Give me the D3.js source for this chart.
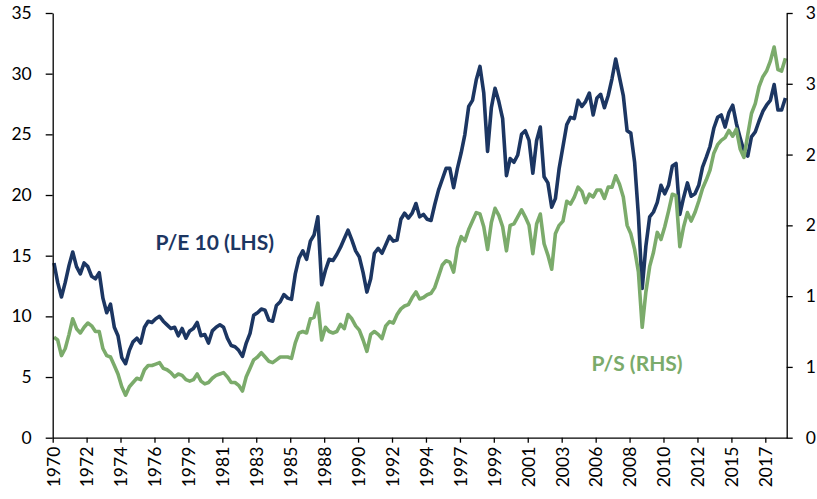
<!DOCTYPE html>
<html>
<head>
<meta charset="utf-8">
<title>P/E 10 and P/S</title>
<script src="https://cdnjs.cloudflare.com/ajax/libs/d3/7.8.5/d3.min.js"></script>
<style>
  html, body { margin: 0; padding: 0; background: #fff; }
  svg { display: block; }
</style>
</head>
<body>
<svg id="chart"></svg>
<script>
// ── Data ──────────────────────────────────────────────────────────────────────
// Quarterly observations (mid-quarter months: Feb, May, Aug, Nov), 1970 → 2018.
const FIRST_OBS = new Date(1970, 1, 1);
const MONTHS_PER_OBS = 3;

// P/E 10, left-hand scale
const peValues = [
  14.4, 12.8, 11.6, 12.8,  14.2, 15.3, 14.1, 13.5,   // 1970-71
  14.4, 14.1, 13.3, 13.1,  13.6, 11.5, 10.3, 11.0,   // 1972-73
   9.1,  8.4,  6.6,  6.1,   7.2,  7.9,  8.2,  7.8,   // 1974-75
   9.1,  9.6,  9.5,  9.8,  10.0,  9.6,  9.3,  9.0,   // 1976-77
   9.1,  8.4,  9.0,  8.2,   8.8,  9.0,  9.5,  8.4,   // 1978-79
   8.5,  7.8,  8.8,  9.1,   9.3,  9.1,  8.2,  7.6,   // 1980-81
   7.5,  7.2,  6.7,  7.8,   8.6, 10.1, 10.3, 10.6,   // 1982-83
  10.5,  9.7,  9.6, 10.9,  11.2, 11.8, 11.5, 11.4,   // 1984-85
  13.5, 14.8, 15.4, 14.7,  16.2, 16.7, 18.2, 12.6,   // 1986-87
  13.8, 14.7, 14.6, 15.1,  15.7, 16.4, 17.1, 16.3,   // 1988-89
  15.4, 14.9, 13.6, 12.0,  13.1, 15.2, 15.6, 15.2,   // 1990-91
  15.9, 16.6, 16.2, 16.3,  18.0, 18.5, 18.1, 18.5,   // 1992-93
  19.3, 18.2, 18.4, 18.0,  17.9, 19.2, 20.4, 21.3,   // 1994-95
  22.2, 22.2, 20.6, 22.2,  23.5, 25.0, 27.3, 27.8,   // 1996-97
  29.5, 30.6, 28.4, 23.6,  27.2, 28.8, 27.7, 26.3,   // 1998-99
  21.6, 23.0, 22.7, 23.3,  25.0, 25.3, 24.5, 21.8,   // 2000-01
  24.5, 25.6, 21.5, 21.0,  19.0, 19.7, 22.2, 24.0,   // 2002-03
  25.8, 26.4, 26.3, 27.8,  27.3, 27.7, 28.4, 26.6,   // 2004-05
  28.0, 28.3, 27.2, 28.2,  29.6, 31.2, 29.7, 28.2,   // 2006-07
  25.3, 25.1, 22.7, 18.3,  12.3, 15.8, 18.2, 18.6,   // 2008-09
  19.4, 20.8, 20.1, 20.8,  22.4, 22.6, 18.4, 19.8,   // 2010-11
  21.0, 19.9, 20.1, 20.8,  22.3, 23.1, 24.0, 25.5,   // 2012-13
  26.4, 26.6, 25.6, 26.8,  27.4, 25.9, 24.7, 23.6,   // 2014-15
  23.2, 24.8, 25.2, 26.1,  26.9, 27.4, 27.8, 29.1,   // 2016-17
  27.0, 27.0, 28.0                                   // 2018
];

// P/S, right-hand scale
const psValues = [
  0.71, 0.69, 0.58, 0.63,  0.73, 0.84, 0.77, 0.74,   // 1970-71
  0.78, 0.81, 0.79, 0.75,  0.75, 0.63, 0.58, 0.57,   // 1972-73
  0.51, 0.45, 0.36, 0.30,  0.36, 0.39, 0.42, 0.41,   // 1974-75
  0.48, 0.51, 0.51, 0.52,  0.53, 0.49, 0.48, 0.46,   // 1976-77
  0.43, 0.45, 0.44, 0.41,  0.40, 0.41, 0.45, 0.40,   // 1978-79
  0.38, 0.39, 0.42, 0.44,  0.45, 0.46, 0.43, 0.39,   // 1980-81
  0.39, 0.37, 0.33, 0.43,  0.49, 0.55, 0.57, 0.60,   // 1982-83
  0.57, 0.54, 0.53, 0.55,  0.57, 0.57, 0.57, 0.56,   // 1984-85
  0.67, 0.74, 0.75, 0.74,  0.84, 0.85, 0.95, 0.69,   // 1986-87
  0.78, 0.75, 0.74, 0.75,  0.80, 0.77, 0.87, 0.84,   // 1988-89
  0.79, 0.76, 0.69, 0.61,  0.73, 0.75, 0.73, 0.70,   // 1990-91
  0.79, 0.82, 0.81, 0.87,  0.91, 0.93, 0.94, 0.99,   // 1992-93
  1.03, 0.98, 0.99, 1.01,  1.02, 1.06, 1.14, 1.22,   // 1994-95
  1.25, 1.24, 1.17, 1.34,  1.42, 1.39, 1.47, 1.53,   // 1996-97
  1.59, 1.58, 1.49, 1.33,  1.52, 1.62, 1.57, 1.49,   // 1998-99
  1.32, 1.50, 1.51, 1.56,  1.61, 1.56, 1.50, 1.30,   // 2000-01
  1.51, 1.58, 1.37, 1.29,  1.19, 1.44, 1.50, 1.53,   // 2002-03
  1.67, 1.65, 1.70, 1.77,  1.74, 1.66, 1.72, 1.70,   // 2004-05
  1.75, 1.75, 1.69, 1.77,  1.77, 1.85, 1.79, 1.70,   // 2006-07
  1.50, 1.44, 1.33, 1.17,  0.78, 1.03, 1.21, 1.31,   // 2008-09
  1.45, 1.40, 1.49, 1.60,  1.72, 1.71, 1.35, 1.49,   // 2010-11
  1.59, 1.53, 1.59, 1.67,  1.76, 1.82, 1.89, 2.01,   // 2012-13
  2.07, 2.10, 2.12, 2.17,  2.13, 2.18, 2.04, 1.98,   // 2014-15
  2.14, 2.29, 2.36, 2.48,  2.55, 2.59, 2.66, 2.76,   // 2016-17
  2.60, 2.59, 2.68                                   // 2018
];

// Axis ticks
const leftTicks  = [0, 5, 10, 15, 20, 25, 30, 35];
const rightTicks = [0, 0.5, 1, 1.5, 2, 2.5, 3];
// date-axis labels fall every 27 months from Jan 1970
const xTickMonths = [0, 27, 54, 81, 108, 135, 162, 189, 216, 243, 270,
                     297, 324, 351, 378, 405, 432, 459, 486, 513, 540, 567];

// Series labels, anchored in data space
const seriesLabels = [
  { text: 'P/E 10 (LHS)', date: new Date(1976, 9, 25), value: 15.45, axis: 'left',  color: '#1c3662' },
  { text: 'P/S (RHS)',    date: new Date(2005, 8, 20), value: 0.47,  axis: 'right', color: '#7bab6b' },
];

// ── Layout ────────────────────────────────────────────────────────────────────
const W = 817, H = 499;
const margin = { top: 13, right: 30.3, bottom: 61.3, left: 52.7 };
const FONT = 'Lato, "Open Sans", sans-serif';
const NAVY = '#1c3662';
const GREEN = '#7bab6b';

const svg = d3.select('#chart').attr('width', W).attr('height', H);

const x = d3.scaleTime()
  .domain([new Date(1970, 0, 1), new Date(2018, 8, 1)])
  .range([margin.left, W - margin.right]);

const yL = d3.scaleLinear().domain([0, 35]).range([H - margin.bottom, margin.top]);
const yR = d3.scaleLinear().domain([0, 3]).range([H - margin.bottom, margin.top]);

const dates = peValues.map((_, i) => d3.timeMonth.offset(FIRST_OBS, i * MONTHS_PER_OBS));

// ── Lines ─────────────────────────────────────────────────────────────────────
const peLine = d3.line().x((d, i) => x(dates[i])).y(d => yL(d));
const psLine = d3.line().x((d, i) => x(dates[i])).y(d => yR(d));

svg.append('path')
  .datum(peValues)
  .attr('d', peLine)
  .attr('fill', 'none')
  .attr('stroke', NAVY)
  .attr('stroke-width', 3.6)
  .attr('stroke-linejoin', 'round');

svg.append('path')
  .datum(psValues)
  .attr('d', psLine)
  .attr('fill', 'none')
  .attr('stroke', GREEN)
  .attr('stroke-width', 3.6)
  .attr('stroke-linejoin', 'round');

// ── Axes ──────────────────────────────────────────────────────────────────────
function styleAxis(g) {
  g.selectAll('path, line').attr('stroke', '#000').attr('stroke-width', 1.3);
  g.selectAll('text')
    .attr('font-family', FONT)
    .attr('font-size', '17.5px')
    .attr('fill', '#000');
}

svg.append('g')
  .attr('transform', `translate(${margin.left},0)`)
  .call(d3.axisLeft(yL).tickValues(leftTicks).tickSize(7).tickSizeOuter(0).tickPadding(14))
  .call(styleAxis);

svg.append('g')
  .attr('transform', `translate(${W - margin.right},0)`)
  .call(d3.axisRight(yR).tickValues(rightTicks).tickSize(6).tickSizeOuter(0).tickPadding(13)
    .tickFormat(d => Math.round(d)))
  .call(styleAxis);

const xAxis = svg.append('g')
  .attr('transform', `translate(0,${H - margin.bottom})`)
  .call(d3.axisBottom(x)
    .tickValues(xTickMonths.map(m => d3.timeMonth.offset(new Date(1970, 0, 1), m)))
    .tickFormat(d3.timeFormat('%Y'))
    .tickSize(5)
    .tickSizeOuter(0))
  .call(styleAxis);

xAxis.selectAll('.tick text')
  .attr('transform', 'rotate(-90)')
  .attr('text-anchor', 'end')
  .attr('x', -9)
  .attr('y', 0)
  .attr('dy', '0.36em');

// ── Series labels ─────────────────────────────────────────────────────────────
svg.append('g')
  .selectAll('text')
  .data(seriesLabels)
  .join('text')
    .attr('x', d => x(d.date))
    .attr('y', d => (d.axis === 'left' ? yL : yR)(d.value))
    .attr('font-family', FONT)
    .attr('font-size', '21px')
    .attr('font-weight', 'bold')
    .attr('fill', d => d.color)
    .text(d => d.text);
</script>
</body>
</html>
